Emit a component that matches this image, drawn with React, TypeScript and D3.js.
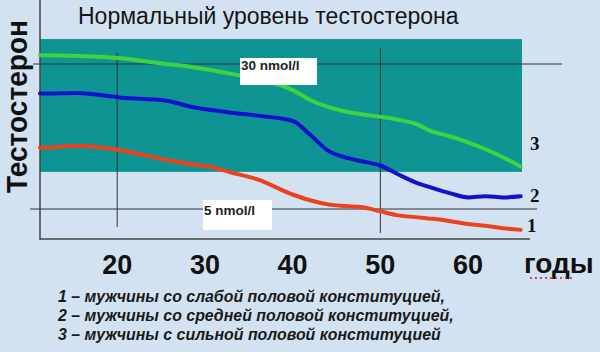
import { useEffect, useRef } from 'react'
import * as d3 from 'd3'

const title = 'Нормальный уровень тестостерона'
const yTitle = 'Тестостерон'
const xTitle = 'годы'

const ages = [11.2, 11.5, 15.5, 20.5, 25.5, 28.5, 30.5, 33, 36, 40, 42, 44, 46, 48, 50, 52, 54, 56, 58, 60, 62, 64, 66]
// 3 – strong constitution
const strong = [31.5, 31.5, 31.4, 31.0, 30.0, 29.5, 29.0, 28.3, 27.4, 25.5, 23.8, 22.6, 21.8, 21.3, 20.9, 20.4, 19.7, 18.3, 17.5, 16.5, 15.3, 13.9, 12.3]
// 2 – medium constitution
const medium = [24.9, 24.9, 25.0, 24.2, 23.7, 22.6, 22.1, 21.6, 21.1, 20.2, 17.8, 15.1, 13.9, 13.2, 12.5, 11.0, 9.6, 8.6, 7.7, 7.0, 7.2, 7.0, 7.2]
// 1 – weak constitution
const weak = [15.6, 15.6, 15.9, 15.1, 13.5, 12.7, 12.3, 11.3, 10.1, 7.5, 6.5, 5.8, 5.5, 5.3, 4.6, 3.9, 3.6, 3.3, 2.9, 2.4, 2.1, 1.7, 1.4]

const xTicks = [20, 30, 40, 50, 60]
const gridAges = [20, 50]
const refLevels = [30, 5]
const refLabels = ['30 nmol/l', '5 nmol/l']
const normalRange = [11.4, 34.3]

const seriesNames = ['1', '2', '3']
const legendLines = [
  '1 – мужчины со слабой половой конституцией,',
  '2 – мужчины со средней половой конституцией,',
  '3 – мужчины с сильной половой конституцией',
]

export default function App() {
  const ref = useRef<SVGSVGElement | null>(null)

  useEffect(() => {
    const width = 600
    const height = 352
    const svg = d3.select(ref.current)
    svg.selectAll('*').remove()
    svg.attr('width', width).attr('height', height)

    const x = d3.scaleLinear().domain([11.2, 66.15]).range([40, 522])
    const y = d3.scaleLinear().domain([0, 30]).range([238, 64])

    svg.append('rect').attr('width', width).attr('height', height).attr('fill', '#d3e2f0')

    // normal zone
    svg
      .append('rect')
      .attr('x', x(11.2))
      .attr('y', y(normalRange[1]))
      .attr('width', x(66.15) - x(11.2))
      .attr('height', y(normalRange[0]) - y(normalRange[1]))
      .attr('fill', '#0f9494')

    // axes
    svg.append('line').attr('x1', 40).attr('x2', 40).attr('y1', 0).attr('y2', 240)
      .attr('stroke', '#444').attr('stroke-width', 1.5)
    svg.append('line').attr('x1', 40).attr('x2', 530).attr('y1', y(0) + 1).attr('y2', y(0) + 1)
      .attr('stroke', '#444').attr('stroke-width', 1.5)

    // reference lines
    const refExt = [[33, 562], [30, 537]]
    refLevels.forEach((v, i) => {
      svg.append('line')
        .attr('x1', refExt[i][0]).attr('x2', refExt[i][1])
        .attr('y1', y(v)).attr('y2', y(v))
        .attr('stroke', '#333').attr('stroke-width', 1)
    })

    // vertical grid
    const gridExt = [[53, 227], [48, 233]]
    gridAges.forEach((a, i) => {
      svg.append('line')
        .attr('x1', x(a)).attr('x2', x(a))
        .attr('y1', gridExt[i][0]).attr('y2', gridExt[i][1])
        .attr('stroke', '#333').attr('stroke-width', 1)
    })

    const line = d3.line<number>()
      .x((_, i) => x(ages[i]))
      .y((d) => y(d))
      .curve(d3.curveMonotoneX)

    const series = [weak, medium, strong]
    const colors = ['#ea4320', '#1212cc', '#3fd43f']
    series.forEach((s, i) => {
      svg.append('path').datum(s)
        .attr('fill', 'none')
        .attr('stroke', colors[i])
        .attr('stroke-width', 4)
        .attr('stroke-linejoin', 'round')
        .attr('stroke-linecap', 'round')
        .attr('d', line as any)
    })

    // ref label boxes (drawn over the lines)
    const boxes = [
      { x: 240, w: 77, dy: -6, h: 27, ty: 12 },
      { x: 203, w: 69, dy: -9, h: 30, ty: 15 },
    ]
    refLevels.forEach((v, i) => {
      const b = boxes[i]
      svg.append('rect')
        .attr('x', b.x).attr('y', y(v) + b.dy)
        .attr('width', b.w).attr('height', b.h)
        .attr('fill', '#fff')
      svg.append('text')
        .attr('x', b.x + 1).attr('y', y(v) + b.dy + b.ty)
        .attr('font-family', 'Liberation Sans, Arial, sans-serif')
        .attr('font-weight', 'bold')
        .attr('font-size', 13.5)
        .attr('fill', '#222')
        .text(refLabels[i])
    })

    // series numbers
    const numY = [232, 202, 150]
    const numX = [527, 530, 530]
    seriesNames.forEach((n, i) => {
      svg.append('text')
        .attr('x', numX[i]).attr('y', numY[i])
        .attr('font-family', 'Liberation Serif, Times New Roman, serif')
        .attr('font-weight', 'bold')
        .attr('font-size', 19)
        .attr('fill', '#111')
        .text(n)
    })

    // title
    svg.append('text')
      .attr('x', 78).attr('y', 24)
      .attr('font-family', 'Liberation Sans, Arial, sans-serif')
      .attr('font-size', 23)
      .attr('fill', '#151515')
      .text(title)

    // y title
    svg.append('text')
      .attr('transform', 'translate(27,193) rotate(-90)')
      .attr('font-family', 'Liberation Sans, Arial, sans-serif')
      .attr('font-weight', 'bold')
      .attr('font-size', 29)
      .attr('textLength', 173)
      .attr('lengthAdjust', 'spacingAndGlyphs')
      .attr('fill', '#111')
      .text(yTitle)

    // x tick labels
    svg.selectAll('text.xt').data(xTicks).enter().append('text')
      .attr('class', 'xt')
      .attr('x', (d) => x(d))
      .attr('y', 274)
      .attr('text-anchor', 'middle')
      .attr('font-family', 'Liberation Sans, Arial, sans-serif')
      .attr('font-weight', 'bold')
      .attr('font-size', 27)
      .attr('fill', '#111')
      .text((d) => String(d))

    svg.append('text')
      .attr('x', 524).attr('y', 273)
      .attr('font-family', 'Liberation Sans, Arial, sans-serif')
      .attr('font-weight', 'bold')
      .attr('font-size', 28)
      .attr('fill', '#111')
      .text(xTitle)
    svg.append('line')
      .attr('x1', 530).attr('x2', 572).attr('y1', 278).attr('y2', 278)
      .attr('stroke', '#c02020').attr('stroke-width', 1.5)
      .attr('stroke-dasharray', '2 3')

    // legend
    svg.selectAll('text.lg').data(legendLines).enter().append('text')
      .attr('class', 'lg')
      .attr('x', 58)
      .attr('y', (_, i) => 302 + i * 19)
      .attr('font-family', 'Liberation Sans, Arial, sans-serif')
      .attr('font-weight', 'bold')
      .attr('font-style', 'italic')
      .attr('font-size', 15.9)
      .attr('fill', '#1a1a1a')
      .text((d) => d)
  }, [])

  return <svg ref={ref} style={{ position: 'absolute', left: 0, top: 0, display: 'block' }} />
}
